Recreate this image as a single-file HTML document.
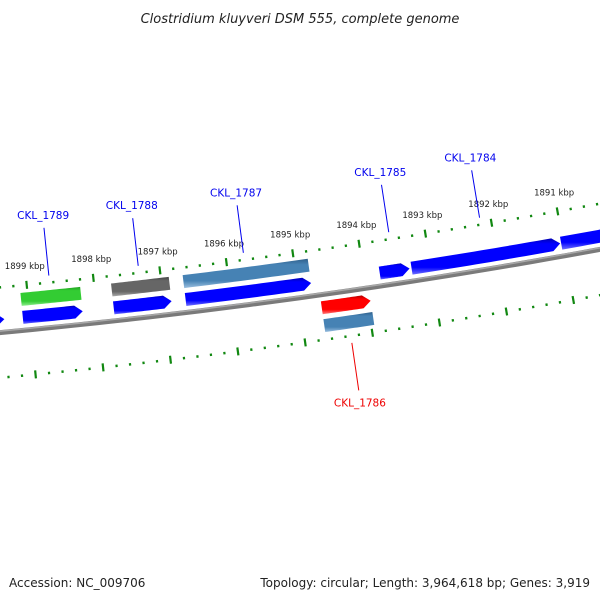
<!DOCTYPE html>
<html><head><meta charset="utf-8"><style>
html,body{margin:0;padding:0;background:#fff}
svg{display:block;font-family:"DejaVu Sans","Liberation Sans",sans-serif}
</style></head><body>
<svg id="map" width="600" height="600" viewBox="0 0 600 600" xmlns="http://www.w3.org/2000/svg">
<defs>
<linearGradient id="gBlue" x1="0" y1="0" x2="0" y2="1"><stop offset="0" stop-color="#0000b0"/><stop offset="0.15" stop-color="#0000ff"/><stop offset="0.8" stop-color="#0000ff"/><stop offset="1" stop-color="#7070ff"/></linearGradient>
<linearGradient id="gGreen" x1="0" y1="0" x2="0" y2="1"><stop offset="0" stop-color="#20a020"/><stop offset="0.2" stop-color="#33cc33"/><stop offset="0.75" stop-color="#33cc33"/><stop offset="1" stop-color="#90ee90"/></linearGradient>
<linearGradient id="gGray" x1="0" y1="0" x2="0" y2="1"><stop offset="0" stop-color="#444"/><stop offset="0.2" stop-color="#666"/><stop offset="0.75" stop-color="#666"/><stop offset="1" stop-color="#aaa"/></linearGradient>
<linearGradient id="gSteel" x1="0" y1="0" x2="0" y2="1"><stop offset="0" stop-color="#2f5f8a"/><stop offset="0.2" stop-color="#4682b4"/><stop offset="0.75" stop-color="#4682b4"/><stop offset="1" stop-color="#9cc0e0"/></linearGradient>
<linearGradient id="gRed" x1="0" y1="0" x2="0" y2="1"><stop offset="0" stop-color="#b00000"/><stop offset="0.2" stop-color="#ff0000"/><stop offset="0.75" stop-color="#ff0000"/><stop offset="1" stop-color="#ff8080"/></linearGradient>
</defs>
<text x="300" y="23" text-anchor="middle" font-size="13" font-style="italic" fill="#222">Clostridium kluyveri DSM 555, complete genome</text>
<g id="layer"></g>
<text x="9" y="587" font-size="12" fill="#222">Accession: NC_009706</text>
<text x="590" y="587" text-anchor="end" font-size="12" fill="#222">Topology: circular; Length: 3,964,618 bp; Genes: 3,919</text>
</svg>
<script>
// data
const featStart = [1899105, 1897747, 1896672, 1893761, 1893283, 1891030, 1899105, 1897747, 1896672, 1894686, 1894686, 1900200];
const featEnd   = [1898210, 1896881, 1894791, 1893313, 1891044, 1889000, 1898210, 1896881, 1894791, 1893955, 1893955, 1899380];
const featRow   = [-1, -1, -1, -1, -1, -1, -2, -2, -2, 1, 2, -1];
const featType  = ["cds","cds","cds","cds","cds","cds","rrna","other","gene","trna","gene","cds"];
const featArrow = [true,true,true,true,true,true,false,false,false,true,false,true];
const labelNames = ["CKL_1789","CKL_1788","CKL_1787","CKL_1785","CKL_1784","CKL_1786"];
const labelPos   = [1898657, 1897314, 1895731, 1893537, 1892163, 1894320];
const labelSide  = [-1,-1,-1,-1,-1,1];
const tickStart = 1889000, tickEnd = 1901000, tickMinor = 200, tickMajor = 1000;

const CX=-647, CY=-6537, R=6900;
const fills={cds:"url(#gBlue)",rrna:"url(#gGreen)",other:"url(#gGray)",gene:"url(#gSteel)",trna:"url(#gRed)"};
function ang(bp){return (82.12+(bp-1895000)*0.00056)*Math.PI/180;}
function pt(bp,r){const a=ang(bp);return [CX+r*Math.cos(a),CY+r*Math.sin(a)];}
const NS="http://www.w3.org/2000/svg";
const layer=document.getElementById('layer');
function mk(tag,attrs){const e=document.createElementNS(NS,tag);for(const k in attrs)e.setAttribute(k,attrs[k]);layer.appendChild(e);return e;}

// backbone
(function(){
  let d="";
  for(let bp=1888000;bp<=1902000;bp+=250){const p=pt(bp,R);d+=(d?"L":"M")+p[0].toFixed(2)+","+p[1].toFixed(2);}
  const s=mk('path',{d:d,fill:'none',stroke:'#7a7a7a','stroke-width':5});
  
  
  let d2="";
  for(let bp=1888000;bp<=1902000;bp+=250){const p=pt(bp,R-1.5);d2+=(d2?"L":"M")+p[0].toFixed(2)+","+p[1].toFixed(2);}
  const h=mk('path',{d:d2,fill:'none',stroke:'#a8a8a8','stroke-width':1.5});
  
  
})();

// ticks (two rings)
[-45,45].forEach(function(off){
  for(let bp=tickStart;bp<=tickEnd;bp+=tickMinor){
    const major=(bp%tickMajor===0);
    const len=major?8:2.5;
    const a=pt(bp,R+off-len/2), b=pt(bp,R+off+len/2);
    const t=mk('line',{x1:a[0],y1:a[1],x2:b[0],y2:b[1],stroke:'#118811','stroke-width':2.2});
    
    
    if(major&&off<0){
      const p=pt(bp,R-64);
      const tx=mk('text',{x:p[0],y:p[1]+3,'text-anchor':'middle','font-size':8.5,fill:'#222'});
      tx.textContent=(bp/1000)+" kbp";
      
      
    }
  }
});

// features
for(let i=0;i<featStart.length;i++){
  const side=featRow[i]<0?-1:1;
  const mid=R+side*(Math.abs(featRow[i])===1?13:31);
  const r0=mid-6.5, r1=mid+6.5;
  const s=featStart[i], e=featEnd[i];
  const dir=e<s?-1:1;
  const headBp=featArrow[i]?8/(R*0.00056*Math.PI/180):0;
  const bodyEnd=e-dir*headBp;
  const pts=[];
  const n=20;
  for(let k=0;k<=n;k++){pts.push(pt(s+(bodyEnd-s)*k/n,r0));}
  if(featArrow[i]) pts.push(pt(e,mid));
  for(let k=n;k>=0;k--){pts.push(pt(s+(bodyEnd-s)*k/n,r1));}
  const p=mk('polygon',{points:pts.map(q=>q[0].toFixed(2)+","+q[1].toFixed(2)).join(" "),fill:fills[featType[i]]});
  
  
}

// labels
for(let i=0;i<labelNames.length;i++){
  const sd=labelSide[i];
  const col=sd>0?'#ee0000':'#0000ee';
  const a=pt(labelPos[i],R+sd*52), b=pt(labelPos[i],R+sd*100);
  const l=mk('line',{x1:a[0],y1:a[1],x2:b[0],y2:b[1],stroke:col,'stroke-width':1});
  
  
  const p=pt(labelPos[i],R+sd*108);
  const t=mk('text',{x:p[0],y:p[1]+(sd>0?8:-1),'text-anchor':'middle','font-size':10.5,fill:col});
  t.textContent=labelNames[i];
  
  
}
</script>
</body></html>
